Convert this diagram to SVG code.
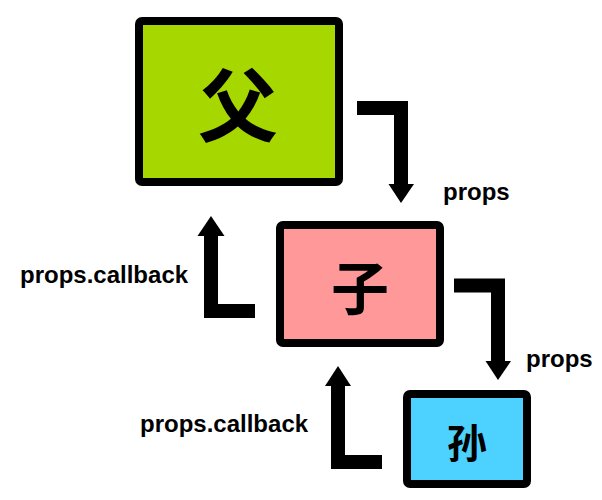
<svg xmlns="http://www.w3.org/2000/svg" width="602" height="500" viewBox="0 0 602 500">
  <style>
    .box { stroke: #000; stroke-width: 8; stroke-linejoin: round; }
    .cjk { font-family: "Noto Sans CJK SC", "Noto Sans CJK TC", sans-serif; font-weight: bold; fill: #000; text-anchor: middle; }
    .lbl { font-family: "Liberation Sans", Arial, sans-serif; font-weight: bold; font-size: 24px; fill: #000; }
    .conn { fill: none; stroke: #000; stroke-width: 14; stroke-linejoin: miter; stroke-linecap: butt; }
    .head { fill: #000; }
  </style>
  <rect width="602" height="500" fill="#fff"/>
  <g id="parent">
    <rect class="box" x="139" y="21" width="200" height="161" rx="3" fill="#a6d800"/>
    <text class="cjk" x="238" y="135" font-size="80">父</text>
  </g>
  <g id="child">
    <rect class="box" x="280" y="225" width="160" height="118" rx="3" fill="#ff9999"/>
    <text class="cjk" x="360" y="310" font-size="58">子</text>
  </g>
  <g id="grandchild">
    <rect class="box" x="407" y="394" width="120" height="90" rx="3" fill="#4dd2ff"/>
    <text class="cjk" x="467" y="458" font-size="40">孙</text>
  </g>
  <g id="connectors">
    <path class="conn" d="M357,108 H401 V185"/>
    <polygon class="head" points="388.5,184 414,184 401,203"/>
    <path class="conn" d="M255,311 H211 V235"/>
    <polygon class="head" points="197.5,236 224.5,236 211,216"/>
    <path class="conn" d="M454,285.5 H498 V362"/>
    <polygon class="head" points="485.5,361 511,361 498,380"/>
    <path class="conn" d="M382,462 H338 V385"/>
    <polygon class="head" points="325,386 351,386 338,366"/>
  </g>
  <g id="labels">
    <text class="lbl" x="443" y="200">props</text>
    <text class="lbl" x="20" y="283">props.callback</text>
    <text class="lbl" x="526" y="367">props</text>
    <text class="lbl" x="140" y="432">props.callback</text>
  </g>
</svg>
